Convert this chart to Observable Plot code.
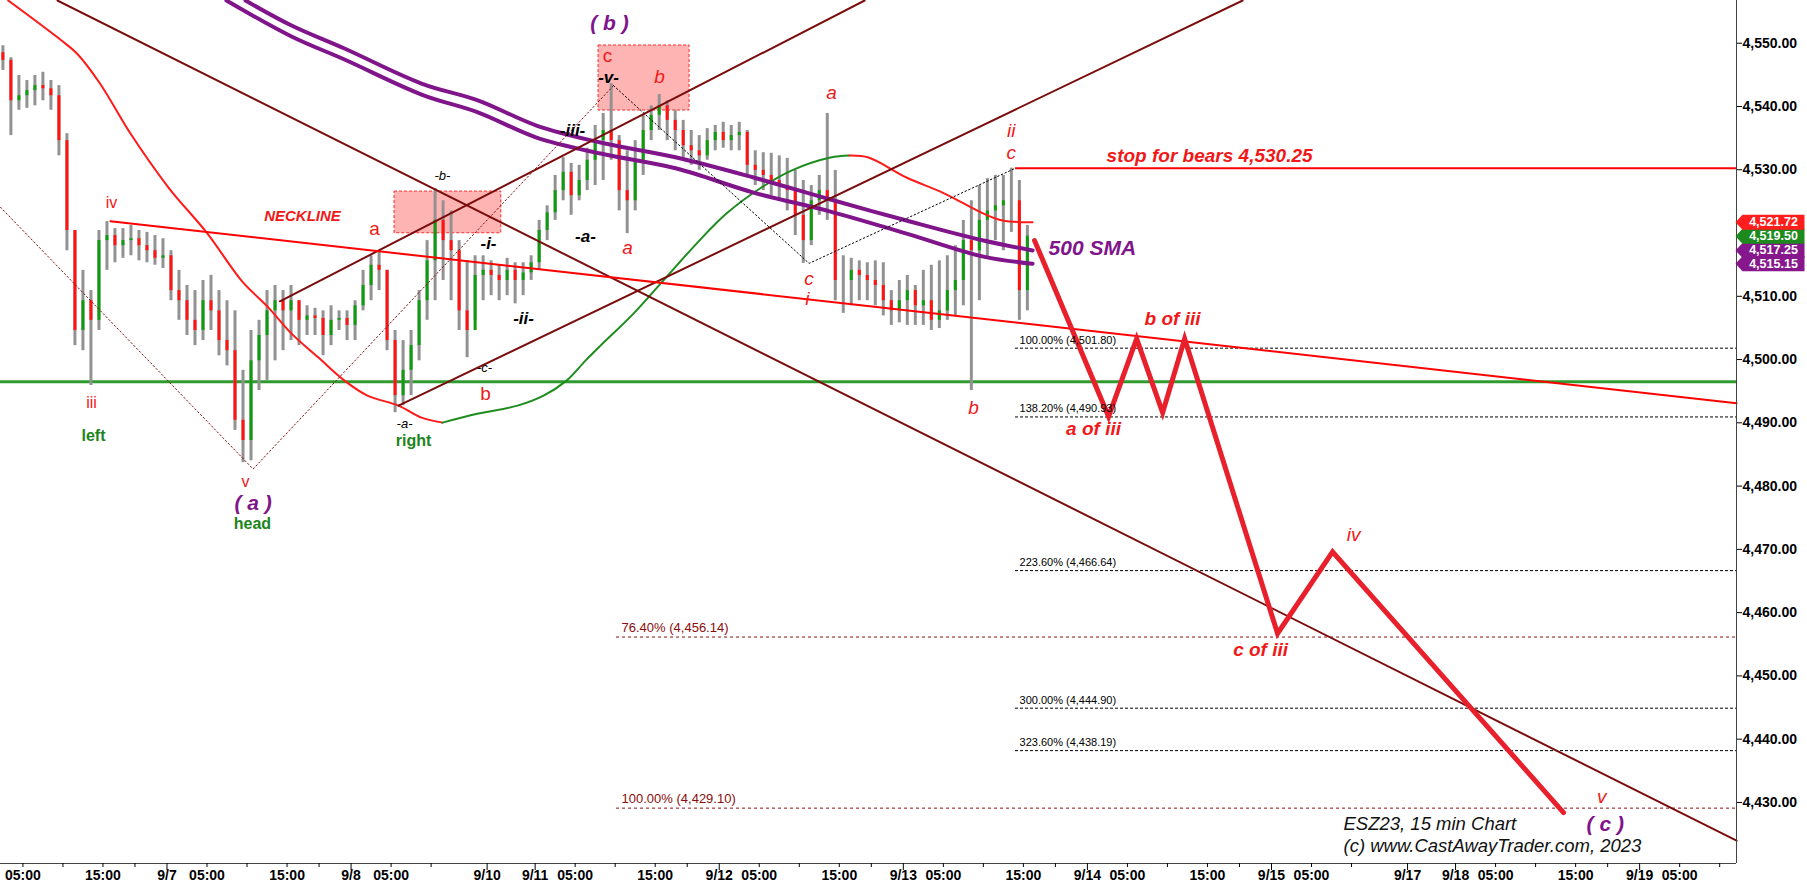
<!DOCTYPE html>
<html>
<head>
<meta charset="utf-8">
<script src="https://cdn.jsdelivr.net/npm/d3@7"></script>
<script src="https://cdn.jsdelivr.net/npm/@observablehq/plot@0.6"></script>
<style>
html,body{margin:0;padding:0;background:#fff;}
svg{display:block;}
</style>
</head>
<body>
<div id="chart"></div>
<script>
// x = trading hours since 9/7 00:00 ET (daily 17:00-18:00 break and weekend removed)
const xDomain = [-20.8, 196.1];
const yDomain = [4420.35, 4556.75];

// ---- axis ticks ----
const yTicks = [4430, 4440, 4450, 4460, 4470, 4480, 4490, 4500, 4510, 4530, 4540, 4550];
const xDateTicks = [0, 23, 40, 46, 69, 92, 115, 138, 155, 161, 184];
const xDateLabels = ["9/7", "9/8", "9/10", "9/11", "9/12", "9/13", "9/14", "9/15", "9/17", "9/18", "9/19"];
const xHourTicks = [-18, -8, 5, 15, 28, 51, 61, 74, 84, 97, 107, 120, 130, 143, 166, 176, 189];
const xHourLabels = ["05:00","15:00","05:00","15:00","05:00","05:00","15:00","05:00","15:00","05:00","15:00","05:00","15:00","05:00","05:00","15:00","05:00"];
const xMinorTicks = [-13, -4, 10, 19, 33, 56, 65, 79, 88, 102, 111, 125, 134, 148, 171, 180, 194];

// ---- hourly price bars (ESZ23) ----
const firstBarHour = -20.5;
const firstOpen = 4548.5;
const barHigh = [
4549.6,4547.7,4544.9,4544.1,4544.9,4545.4,4544.1,4543.3,4535.7,4520.4,
4514.1,4510.9,4520.4,4521.8,4520.7,4520.7,4521.2,4520.4,4520.1,4519.6,
4519.1,4517.2,4514.1,4511.7,4510.9,4512.5,4513.3,4510.9,4509.3,4507.7,
4498.3,4504.6,4506.2,4510.9,4511.7,4510.9,4511.7,4509.3,4508.5,4508.1,
4507.7,4508.5,4507.7,4507.7,4509.3,4514.1,4516.4,4517.2,4514.1,4504.6,
4503.0,4504.6,4510.9,4518.8,4527.0,4525.1,4523.5,4518.8,4515.6,4516.4,
4516.4,4515.6,4514.9,4516.0,4515.3,4515.3,4516.4,4522.0,4524.3,4529.1,
4531.9,4531.0,4530.7,4533.4,4537.0,4538.9,4543.6,4535.4,4533.0,4534.6,
4538.6,4540.1,4541.9,4540.9,4539.4,4537.8,4536.2,4535.4,4536.5,4537.0,
4537.5,4537.0,4537.5,4536.2,4533.0,4532.7,4532.6,4532.2,4531.8,4529.9,
4528.3,4527.5,4529.1,4538.9,4529.9,4516.4,4516.0,4515.6,4515.3,4515.6,
4515.3,4510.9,4512.5,4513.3,4511.7,4514.1,4514.9,4515.6,4516.4,4518.0,
4522.0,4525.1,4527.5,4528.6,4529.1,4529.1,4530.25,4528.3,4521.2];
const barLow = [
4545.7,4535.4,4539.4,4539.7,4540.1,4540.9,4539.4,4532.2,4517.2,4502.2,
4501.4,4495.9,4504.6,4514.1,4515.3,4516.0,4516.4,4515.6,4515.3,4514.9,
4514.4,4509.3,4506.2,4503.8,4502.2,4503.0,4504.6,4500.6,4499.0,4488.8,
4483.7,4484.0,4495.1,4496.7,4499.8,4501.4,4503.0,4502.2,4503.8,4503.8,
4500.6,4502.2,4504.6,4503.0,4503.0,4507.7,4509.3,4510.9,4501.4,4491.6,
4492.7,4494.3,4499.8,4506.2,4509.3,4512.5,4509.3,4504.6,4500.3,4506.2,
4509.3,4510.1,4509.3,4510.1,4508.8,4510.1,4512.5,4514.1,4518.8,4522.0,
4525.1,4522.8,4525.1,4526.7,4527.5,4528.3,4531.5,4523.5,4519.9,4523.5,
4529.1,4534.6,4536.2,4534.6,4533.0,4531.5,4530.7,4529.9,4531.5,4533.0,
4533.4,4533.0,4533.0,4529.1,4527.5,4526.7,4525.9,4525.1,4523.5,4519.6,
4515.2,4518.0,4522.8,4522.0,4509.3,4507.3,4508.5,4509.3,4509.3,4508.5,
4506.9,4505.4,4505.8,4505.4,4505.4,4505.4,4504.6,4504.9,4506.2,4506.9,
4508.5,4495.1,4509.3,4516.0,4518.8,4517.2,4520.1,4506.2,4507.7];
const barClose = [
4547.3,4540.9,4541.7,4542.5,4543.3,4542.8,4541.7,4534.6,4520.4,4504.6,
4509.3,4506.2,4518.8,4519.6,4518.0,4518.8,4519.1,4518.0,4517.2,4516.0,
4516.4,4510.9,4509.3,4506.2,4504.6,4509.3,4507.7,4503.0,4501.4,4490.4,
4487.2,4499.8,4503.8,4507.7,4509.3,4507.7,4509.3,4506.2,4506.9,4506.5,
4503.8,4506.2,4506.5,4505.4,4508.5,4511.7,4514.9,4514.1,4503.0,4494.3,
4498.3,4502.2,4509.3,4515.6,4522.0,4518.8,4517.2,4507.7,4504.6,4513.3,
4514.1,4513.3,4512.5,4514.1,4512.5,4513.7,4515.3,4520.4,4523.2,4526.7,
4529.6,4525.9,4528.3,4531.5,4534.6,4536.2,4534.6,4526.7,4525.1,4531.5,
4536.2,4538.6,4540.1,4537.8,4536.2,4533.8,4533.0,4532.2,4534.6,4535.9,
4534.6,4535.4,4535.9,4530.7,4529.9,4529.1,4528.3,4527.5,4526.7,4522.8,
4518.8,4525.1,4526.7,4525.1,4512.5,4512.5,4514.1,4513.3,4512.5,4511.7,
4509.3,4507.7,4509.3,4510.9,4508.5,4509.3,4506.2,4507.7,4510.9,4512.5,
4518.8,4517.2,4522.0,4523.5,4524.3,4525.1,4525.1,4510.9,4519.5];

// ---- moving averages [hour, price] ----
const maFallingEarly = [[-19.84,4556.75],[-13.18,4550.43],[-11.25,4548.37],[-8.37,4543.63],[-4.56,4535.72],[0.19,4527.19],[5.06,4519.91],[9.31,4512.48],[12.68,4508.21],[15.56,4504.10],[18.93,4500.31],[22.18,4496.67],[25.05,4494.30],[28.93,4492.72],[31.80,4490.82],[34.42,4490.03]];
const maRising = [[34.42,4490.03],[38.92,4491.46],[43.80,4492.72],[47.05,4494.30],[49.92,4496.67],[52.29,4499.83],[54.17,4502.20],[58.29,4507.26],[61.67,4512.00],[66.17,4518.33],[69.90,4523.07],[74.27,4527.19],[78.02,4529.87],[82.90,4531.93],[85.27,4532.24]];
const maFallingLate = [[85.27,4532.24],[87.65,4531.93],[92.40,4528.77],[97.15,4526.24],[102.02,4523.07],[104.40,4521.97],[108.15,4521.72]];
const sma500Upper = [[9.81,4556.75],[15.56,4552.80],[22.18,4549.16],[31.80,4543.63],[38.92,4540.94],[46.17,4536.99],[54.17,4534.30],[63.67,4531.93],[73.29,4528.77],[82.90,4525.29],[92.40,4521.97],[102.02,4518.81],[108.15,4517.25]];
const sma500Lower = [[7.43,4556.75],[15.56,4551.06],[22.18,4547.42],[31.80,4541.89],[38.92,4539.04],[46.17,4535.09],[54.17,4532.56],[63.67,4530.19],[73.29,4526.39],[82.90,4523.39],[92.40,4519.91],[102.02,4516.27],[108.15,4515.15]];

// ---- trend lines ----
const maroonFalling = [[-13.68,4556.75],[196.11,4423.95]];
const channelLower = [[28.93,4492.72],[134.39,4556.75]];
const channelUpper = [[14.11,4509.21],[87.16,4556.75]];
const neckline = [[-7.06,4521.86],[196.11,4493.10]];
const waveDottedMaroon = [[-20.8,4524.07],[10.76,4482.7],[55.79,4543.3]];
const waveDottedBlack = [[55.79,4543.3],[80.23,4515.2],[106.02,4530.25]];
const projection = [[108.40,4518.8],[117.65,4491.0],[121.15,4503.3],[124.40,4491.6],[127.15,4503.3],[138.76,4456.7],[145.63,4469.6],[174.49,4428.4]];

// ---- levels ----
const greenLevel = 4496.5;
const stopLevel = 4530.25;
const stopStartHour = 106.02;
const fibExtPct = ["100.00%","138.20%","223.60%","300.00%","323.60%"];
const fibExtVal = [4501.80, 4490.93, 4466.64, 4444.90, 4438.19];
const fibExtStartHour = 106.02;
const fibRetPct = ["76.40%","100.00%"];
const fibRetVal = [4456.14, 4429.10];
const fibRetStartHour = 56.17;

// ---- highlighted boxes ----
const boxT1 = [28.43, 53.92], boxT2 = [41.77, 65.29], boxP1 = [4519.96, 4539.36], boxP2 = [4526.55, 4549.64];

// ---- last value tags ----
const lastValues = [4515.15, 4517.25, 4519.50, 4521.72];
const lastColors = ["#86178c", "#86178c", "#1c8a1c", "#ff1d1d"];

// ---- annotations [text, hour, price] ----
const redSmallLabels = [["iii",-9.43,4493.2],["iv",-6.93,4524.7],["v",9.81,4480.6]];
const redUprightLabels = [["a",25.93,4520.7],["b",39.80,4494.6],["c",55.04,4548.0]];
const redItalicLabels = [["b",61.54,4544.73],["a",57.54,4517.70],["a",83.03,4542.20],["c",80.23,4512.80],["i",80.0,4509.64],["ii",105.47,4536.20],["c",105.47,4532.72],["b",100.77,4492.40],["iv",148.26,4472.32],["v",179.25,4430.90]];
const redBoldLabels = [["a of iii",115.77,4489.08],["b of iii",125.64,4506.47],["c of iii",136.64,4454.14]];
const necklineLabel = [["NECKLINE",16.93,4522.60]];
const blackBoldLabels = [["-i-",40.17,4518.33],["-ii-",44.55,4506.47],["-iii-",50.67,4536.20],["-a-",52.29,4519.44],["-v-",55.17,4544.58]];
const blackSmallLabels = [["-b-",34.42,4529.08],["-c-",39.67,4498.73],["-a-",29.68,4489.87]];
const greenLabels = [["left",-9.18,4487.98],["head",10.68,4474.06],["right",30.80,4487.20]];
const purpleLabels = [["( a )",10.76,4477.23],["( b )",55.29,4553.11],["( c )",179.70,4426.63]];
const smaLabel = [["500 SMA",110.15,4517.54]];
const stopLabel = [["stop for bears " + d3.format(",.2f")(stopLevel),117.40,4532.24]];
const creditLabels = [["ESZ23, 15 min Chart",147.0,4426.63],["(c) www.CastAwayTrader.com, 2023",147.0,4423.16]];

// ---- build tables ----
const fmt = d3.format(",.2f");
const bars = barHigh.map((h, i) => ({
  t: firstBarHour + i, hi: h, lo: barLow[i], cl: barClose[i],
  op: i === 0 ? firstOpen : barClose[i - 1]
}));
const fibExt = fibExtVal.map((v, i) => ({v, label: `${fibExtPct[i]} (${fmt(v)})`}));
const fibRet = fibRetVal.map((v, i) => ({v, label: `${fibRetPct[i]} (${fmt(v)})`}));
const boxes = boxT1.map((t1, i) => ({t1, t2: boxT2[i], p1: boxP1[i], p2: boxP2[i]}));
const tags = lastValues.map((v, i) => ({v, c: lastColors[i]}));
const dateLabel = new Map(xDateTicks.map((d, i) => [d, xDateLabels[i]]));
const hourLabel = new Map(xHourTicks.map((d, i) => [d, xHourLabels[i]]));

const FONT = "Liberation Sans, Arial, Helvetica, sans-serif";
const RED = "#f01818";
const tagSymbol = {draw(ctx) {
  ctx.moveTo(-1, 0); ctx.lineTo(6, -7.5); ctx.lineTo(68, -7.5); ctx.lineTo(68, 7.5); ctx.lineTo(6, 7.5); ctx.closePath();
}};
const lab = (arr, o) => Plot.text(arr, {x: d => d[1], y: d => d[2], text: d => d[0], fontFamily: FONT, ...o});

const chart = Plot.plot({
  width: 1807, height: 889,
  marginLeft: 0, marginRight: 71, marginTop: 0, marginBottom: 26,
  x: {domain: xDomain},
  y: {domain: yDomain},
  color: {type: "identity"},
  style: {fontFamily: FONT, background: "#fff", overflow: "visible"},
  marks: [
    Plot.rect(boxes, {x1: "t1", x2: "t2", y1: "p1", y2: "p2", fill: "#ffb4b4", stroke: "#ff2a2a", strokeWidth: 1, strokeDasharray: "3,2"}),
    Plot.ruleY([greenLevel], {stroke: "#2f9b2f", strokeWidth: 3}),
    Plot.ruleY(fibExt, {y: "v", x1: fibExtStartHour, x2: xDomain[1], stroke: "#000", strokeWidth: 1, strokeDasharray: "3,2"}),
    Plot.ruleY(fibRet, {y: "v", x1: fibRetStartHour, x2: xDomain[1], stroke: "#8b0c0c", strokeWidth: 1, strokeDasharray: "3,3"}),
    Plot.ruleY([stopLevel], {x1: stopStartHour, x2: xDomain[1], stroke: "#ff0000", strokeWidth: 2}),
    // price bars
    Plot.ruleX(bars, {x: "t", y1: "lo", y2: "hi", stroke: "#929292", strokeWidth: 3}),
    Plot.ruleX(bars, {x: "t", y1: "op", y2: "cl", stroke: d => d.cl >= d.op ? "#109a10" : "#ff1212", strokeWidth: 3}),
    // moving averages
    Plot.line(maFallingEarly, {stroke: "#ff1a1a", strokeWidth: 2, curve: "catmull-rom"}),
    Plot.line(maRising, {stroke: "#1e8c1e", strokeWidth: 2, curve: "catmull-rom"}),
    Plot.line(maFallingLate, {stroke: "#ff1a1a", strokeWidth: 2, curve: "catmull-rom"}),
    Plot.line(sma500Upper, {stroke: "#80148a", strokeWidth: 4, curve: "catmull-rom"}),
    Plot.line(sma500Lower, {stroke: "#80148a", strokeWidth: 4, curve: "catmull-rom"}),
    // trend lines
    Plot.line(maroonFalling, {stroke: "#7a0c0c", strokeWidth: 2}),
    Plot.line(channelLower, {stroke: "#7a0c0c", strokeWidth: 2}),
    Plot.line(channelUpper, {stroke: "#7a0c0c", strokeWidth: 2}),
    Plot.line(neckline, {stroke: "#ff0000", strokeWidth: 2}),
    Plot.line(waveDottedMaroon, {stroke: "#8b1010", strokeWidth: 1, strokeDasharray: "1.5,2.5"}),
    Plot.line(waveDottedBlack, {stroke: "#000", strokeWidth: 1, strokeDasharray: "1.5,2.5"}),
    Plot.line(projection, {stroke: "#e8202c", strokeWidth: 5, strokeLinejoin: "miter", strokeMiterlimit: 10}),
    // fib labels
    Plot.text(fibExt, {x: fibExtStartHour, y: "v", text: "label", textAnchor: "start", dx: 4, dy: -8, fontSize: 11, fill: "#000", fontFamily: FONT}),
    Plot.text(fibRet, {x: fibRetStartHour, y: "v", text: "label", textAnchor: "start", dx: 5, dy: -9, fontSize: 13, fill: "#8b0c0c", fontFamily: FONT}),
    // annotations
    lab(redSmallLabels, {fill: RED, fontSize: 16}),
    lab(redUprightLabels, {fill: RED, fontSize: 19}),
    lab(redItalicLabels, {fill: RED, fontSize: 19, fontStyle: "italic"}),
    lab(redBoldLabels, {fill: RED, fontSize: 19, fontStyle: "italic", fontWeight: "bold"}),
    lab(necklineLabel, {fill: RED, fontSize: 15, fontStyle: "italic", fontWeight: "bold"}),
    lab(blackBoldLabels, {fill: "#000", fontSize: 17, fontStyle: "italic", fontWeight: "bold"}),
    lab(blackSmallLabels, {fill: "#000", fontSize: 13, fontStyle: "italic"}),
    lab(greenLabels, {fill: "#1c841c", fontSize: 16, fontWeight: "bold"}),
    lab(purpleLabels, {fill: "#80148a", fontSize: 21, fontStyle: "italic", fontWeight: "bold"}),
    lab(smaLabel, {fill: "#80148a", fontSize: 21, fontStyle: "italic", fontWeight: "bold", textAnchor: "start"}),
    lab(stopLabel, {fill: RED, fontSize: 19, fontStyle: "italic", fontWeight: "bold", textAnchor: "start"}),
    lab(creditLabels, {fill: "#111", fontSize: 18.5, fontStyle: "italic", textAnchor: "start"}),
    // frame lines
    Plot.ruleX([xDomain[1]], {stroke: "#444", strokeWidth: 1}),
    Plot.ruleY([yDomain[0]], {stroke: "#444", strokeWidth: 1}),
    // axes
    Plot.axisY(yTicks, {anchor: "right", tickFormat: fmt, tickSize: 5, tickPadding: 1, fontSize: 14, fontWeight: "bold", label: null, fontFamily: FONT}),
    Plot.axisX(xDateTicks, {anchor: "bottom", tickFormat: d => dateLabel.get(d), tickSize: 7, tickPadding: 0, fontSize: 14, fontWeight: "bold", label: null, fontFamily: FONT}),
    Plot.axisX(xHourTicks, {anchor: "bottom", tickFormat: d => hourLabel.get(d), tickSize: 4, tickPadding: 3, fontSize: 14, fontWeight: "bold", label: null, fontFamily: FONT}),
    Plot.axisX(xMinorTicks, {anchor: "bottom", tickFormat: () => "", tickSize: 4, label: null}),
    // last-value tags
    Plot.dot(tags, {y: "v", frameAnchor: "right", symbol: tagSymbol, fill: "c", stroke: null, r: 5}),
    Plot.text(tags, {y: "v", frameAnchor: "right", dx: 37, textAnchor: "middle", text: d => fmt(d.v), fill: "#fff", fontSize: 12.5, fontWeight: "bold", fontFamily: FONT})
  ]
});
document.getElementById("chart").appendChild(chart);
</script>
</body>
</html>
